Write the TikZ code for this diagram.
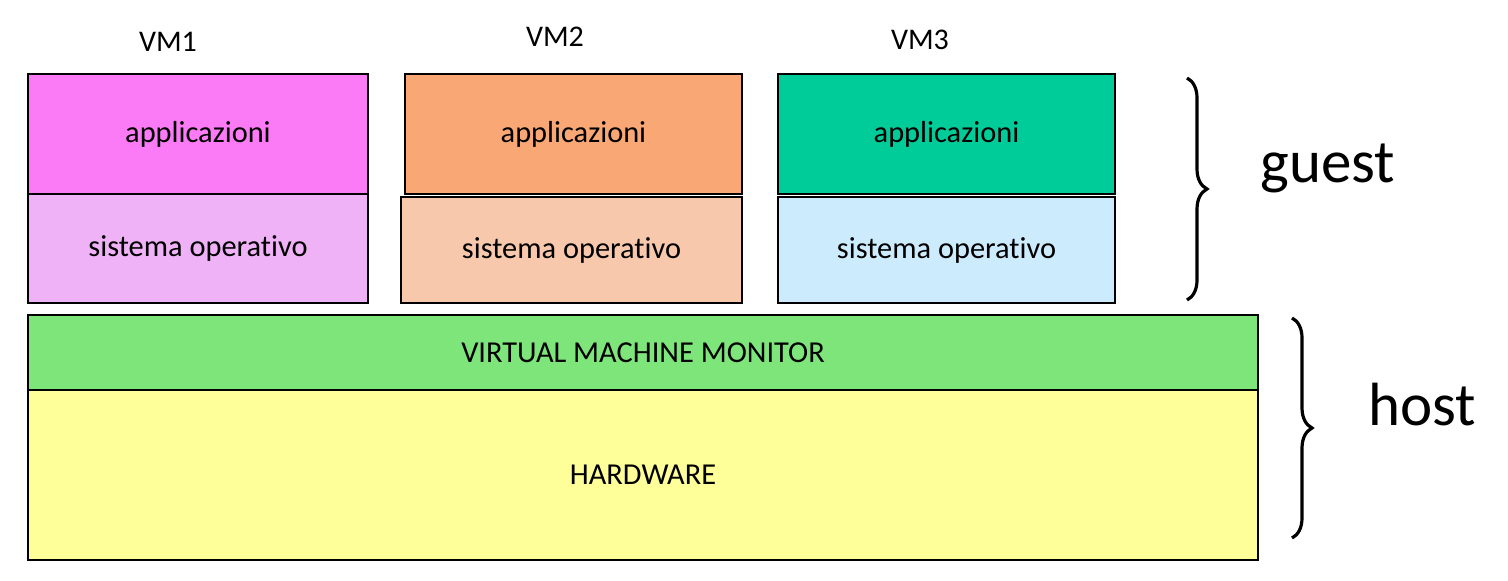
\documentclass[tikz,border=0pt]{standalone}
\usepackage{fontspec}
\setmainfont{Carlito}[Ligatures={NoCommon}, RawFeature={-liga;-dlig}]
\usetikzlibrary{decorations.pathreplacing}
\definecolor{appA}{HTML}{FA7BF5}
\definecolor{osA}{HTML}{F0B2F7}
\definecolor{appB}{HTML}{F9A875}
\definecolor{osB}{HTML}{F8C8AC}
\definecolor{appC}{HTML}{00CC99}
\definecolor{osC}{HTML}{CCECFD}
\definecolor{vmmc}{HTML}{7DE57A}
\definecolor{hwc}{HTML}{FFFF99}
\tikzset{
  layer/.style={draw=black, line width=1.1pt, inner sep=0pt, font=\fontsize{15.2}{18}\selectfont},
  vmlabel/.style={font=\fontsize{15}{18}\selectfont},
  bigword/.style={font=\fontsize{30.5}{36}\selectfont},
  bracestyle/.style={draw=black, line width=1.6pt, decorate, decoration={brace, amplitude=10pt}}
}
\begin{document}
\begin{tikzpicture}[x=0.5pt,y=-0.5pt]
\useasboundingbox (0,0) rectangle (1508,580);
% VM1
\node[layer, fill=appA, minimum width=170pt, minimum height=60pt] (a1) at (198,134) {applicazioni};
\node[layer, fill=osA, minimum width=170pt, minimum height=54.5pt] (o1) at (198,248.5) {sistema operativo};
% VM2
\node[layer, fill=appB, minimum width=168.5pt, minimum height=60pt] (a2) at (573.5,134) {applicazioni};
\node[layer, fill=osB, minimum width=170.5pt, minimum height=53pt] (o2) at (571.5,250) {sistema operativo};
% VM3
\node[layer, fill=appC, minimum width=168.5pt, minimum height=60pt] (a3) at (946.5,134) {applicazioni};
\node[layer, fill=osC, minimum width=168.5pt, minimum height=53pt] (o3) at (946.5,250) {sistema operativo};
% host
\node[layer, fill=vmmc, minimum width=615pt, minimum height=37.5pt] (vmm) at (643,352.5) {VIRTUAL MACHINE MONITOR};
\node[layer, fill=hwc, minimum width=615pt, minimum height=85pt] (hw) at (643,475) {HARDWARE};
% labels
\node[vmlabel] (l1) at (168,42) {VM1};
\node[vmlabel] (l2) at (555,37) {VM2};
\node[vmlabel] (l3) at (920,40) {VM3};
% braces
\coordinate (g1) at (1187,78);
\coordinate (g2) at (1187,300);
\coordinate (h1) at (1292,318);
\coordinate (h2) at (1292,538);
\draw[bracestyle] (g1) -- (g2);
\draw[bracestyle] (h1) -- (h2);
\node[bigword] (guest) at (1328,168) {guest};
\node[bigword] (host) at (1422,405) {host};
\end{tikzpicture}
\end{document}
